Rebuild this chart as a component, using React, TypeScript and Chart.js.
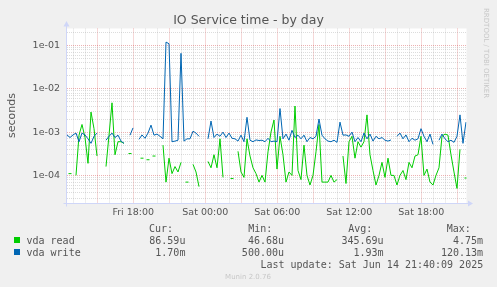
import React, { useEffect, useRef } from 'react';
import { Chart, registerables } from 'chart.js';

Chart.register(...registerables);

// ---------- data ----------
const TITLE = 'IO Service time - by day';
const Y_TITLE = 'seconds';

// sample times: hours after Fri 00:00, one sample every 15 minutes
const START_HOUR = 12.475;
const STEP_HOURS = 0.25;
const X_MIN = 12.433;
const X_MAX = 45.767;
const X_GRID_HOURS = [13, 14, 15, 16, 17, 18, 19, 20, 21, 22, 23, 24, 25, 26, 27, 28, 29, 30, 31, 32, 33, 34, 35, 36, 37, 38, 39, 40, 41, 42, 43, 44, 45];
const X_TICK_HOURS = [18, 24, 30, 36, 42];
const X_TICK_LABELS = ['Fri 18:00', 'Sat 00:00', 'Sat 06:00', 'Sat 12:00', 'Sat 18:00'];

const Y_MIN = 2.244e-5;
const Y_MAX = 0.2472;
const Y_TICK_VALUES = [1e-4, 1e-3, 1e-2, 1e-1];
const Y_TICK_LABELS = ['1e-04', '1e-03', '1e-02', '1e-01'];

// service times in milliseconds (null = no data)
const READ_MS: (number | null)[] = [
  null, 0.11, null, 0.1, 0.85, 1.5, 0.75, 0.19, 2.9, 1.2,
  0.28, null, null, 0.16, 0.85, 4.75, 0.3, 0.6, 0.6, 0.55,
  null, 0.32, null, null, null, 0.25, null, 0.23, null, 0.28,
  null, null, 0.5, 0.07, 0.25, 0.11, 0.16, 0.12, 0.2, null,
  0.07, null, 0.18, 0.12, 0.055, null, null, 0.21, 0.15, 0.3,
  0.15, 0.7, 0.09, null, null, 0.085, null, 0.36, 0.12, 0.09,
  0.7, 0.28, 0.15, 0.11, 0.07, 0.1, 0.07, 0.35, 1.0, 1.9,
  0.14, 0.8, 0.3, 0.07, 0.12, 0.1, 4.0, 0.13, 0.08, 0.5,
  0.1, 0.06, 0.1, 0.35, 1.5, 0.07, 0.07, 0.07, 0.1, 0.07,
  0.08, null, 0.28, 0.065, 0.6, 0.8, 0.25, 0.6, 0.45, 0.6,
  2.5, 0.3, 0.13, 0.06, 0.1, 0.2, 0.09, 0.25, 0.1, 0.1,
  0.06, 0.1, 0.13, 0.08, 0.2, 0.15, 0.28, 0.3, 0.8, 0.1,
  0.14, 0.07, 0.06, 0.1, 0.15, 0.8, 0.9, 0.85, 0.3, 0.12,
  0.05, 0.4, null, 0.087,
];

const WRITE_MS: (number | null)[] = [
  0.86, 0.75, 0.86, 0.95, 0.6, 0.95, 0.86, 0.7, 0.55, 0.8,
  0.95, null, null, 0.65, 0.8, 0.95, 0.75, 0.85, 0.62, 0.55,
  null, 0.85, 1.25, null, 0.68, 0.86, 0.72, 0.95, 1.45, 0.85,
  0.9, 0.8, 0.7, 120, 110, 0.6, 0.62, 0.65, 66, 0.62,
  0.7, 0.7, 1.05, 0.95, 0.8, null, null, 0.7, 1.8, 0.75,
  0.9, 0.8, 1.0, 0.75, 0.95, 0.72, 0.7, 0.62, 0.85, 0.6,
  2.2, 0.65, 0.6, 0.66, 0.64, 0.65, 0.6, 0.72, 0.6, 0.62,
  0.6, 3.5, 0.7, 0.9, 0.65, 1.1, 0.75, 0.85, 0.7, 0.85,
  0.6, 0.75, 0.7, 0.8, 2.0, 0.85, 0.7, 0.62, 0.6, 0.65,
  0.58, 1.7, 0.85, 0.86, 0.8, 1.0, 0.6, 0.75, 0.6, 0.95,
  0.7, 0.9, 0.62, 0.8, 0.7, 0.75, 0.65, 0.62, 0.66, null,
  0.8, 0.95, 0.7, 0.86, 0.6, 0.72, 0.65, 0.7, 1.2, 0.8,
  0.6, 0.9, 0.52, null, 0.65, 0.9, 0.7, 0.6, 0.65, 0.58,
  0.8, 2.5, 0.55, 1.7,
];

const SERIES_NAMES = ['vda read', 'vda write'];
const SERIES_COLORS = ['#00CC00', '#0066B3'];
const STAT_HEADERS = ['Cur:', 'Min:', 'Avg:', 'Max:'];
const CUR = ['86.59u', '1.70m'];
const MIN = ['46.68u', '500.00u'];
const AVG = ['345.69u', '1.93m'];
const MAX = ['4.75m', '120.13m'];
const LAST_UPDATE = 'Last update: Sat Jun 14 21:40:09 2025';
const VERSION = 'Munin 2.0.76';
const WATERMARK = 'RRDTOOL / TOBI OETIKER';

// ---------- styles ----------
const BACK = '#F0F0F0';
const CANVAS_BG = '#FFFFFF';
const FONT_COLOR = '#555555';
const AXIS_COLOR = '#CFD6F8';
const GRID_MINOR = 'rgba(140,140,140,0.3)';
const GRID_MAJOR = 'rgba(210,60,60,0.4)';
const SANS = '"DejaVu Sans"';
const MONO = '"DejaVu Sans Mono"';

const toPoints = (arr: (number | null)[]) =>
  arr.map((v, i) => ({ x: START_HOUR + i * STEP_HOURS, y: v == null ? null : v / 1000 }));

const isolatedRadius = (arr: (number | null)[]) => (ctx: any) => {
  const i = ctx.dataIndex;
  if (arr[i] == null) return 0;
  const prev = i > 0 ? arr[i - 1] : null;
  const next = i < arr.length - 1 ? arr[i + 1] : null;
  return prev == null && next == null ? 1.5 : 0;
};

const isDecade = (v: number) => Math.abs(Math.log10(v) - Math.round(Math.log10(v))) < 1e-6;

const muninPlugin = {
  id: 'muninDecor',
  beforeDraw(chart: any) {
    const { ctx, chartArea: a } = chart;
    ctx.save();
    ctx.fillStyle = BACK;
    ctx.fillRect(0, 0, chart.width, chart.height);
    ctx.fillStyle = CANVAS_BG;
    ctx.fillRect(a.left, a.top, a.right - a.left, a.bottom - a.top);
    ctx.restore();
  },
  beforeDatasetsDraw(chart: any) {
    const { ctx, chartArea: a } = chart;
    ctx.save();
    ctx.strokeStyle = AXIS_COLOR;
    ctx.fillStyle = AXIS_COLOR;
    ctx.lineWidth = 1;
    ctx.beginPath();
    ctx.moveTo(a.left, a.bottom + 3);
    ctx.lineTo(a.left, a.top - 3);
    ctx.moveTo(a.left - 3, a.bottom);
    ctx.lineTo(a.right + 3, a.bottom);
    ctx.stroke();
    // arrows
    ctx.beginPath();
    ctx.moveTo(a.left, a.top - 7.5);
    ctx.lineTo(a.left - 3, a.top - 2);
    ctx.lineTo(a.left + 3, a.top - 2);
    ctx.closePath();
    ctx.fill();
    ctx.beginPath();
    ctx.moveTo(a.right + 6.5, a.bottom);
    ctx.lineTo(a.right + 1.5, a.bottom - 3);
    ctx.lineTo(a.right + 1.5, a.bottom + 3);
    ctx.closePath();
    ctx.fill();
    ctx.restore();
  },
  afterDraw(chart: any) {
    const { ctx } = chart;
    ctx.save();
    ctx.fillStyle = FONT_COLOR;
    ctx.textBaseline = 'alphabetic';
    // title
    ctx.font = `12.5px ${SANS}`;
    ctx.textAlign = 'center';
    ctx.fillText(TITLE, 248.5, 23.5);
    // y title
    ctx.save();
    ctx.translate(15, 115.5);
    ctx.rotate(-Math.PI / 2);
    ctx.font = `11px ${SANS}`;
    ctx.textAlign = 'center';
    ctx.fillText(Y_TITLE, 0, 0);
    ctx.restore();
    // watermark
    ctx.save();
    ctx.fillStyle = 'rgba(90,90,90,0.28)';
    ctx.translate(483.5, 8);
    ctx.rotate(Math.PI / 2);
    ctx.font = `7px ${SANS}`;
    ctx.textAlign = 'left';
    ctx.fillText(WATERMARK, 0, 0);
    ctx.restore();
    // legend
    ctx.font = `10px ${MONO}`;
    const headerX = [149, 248.3, 348.3, 446.7];
    ctx.textAlign = 'left';
    STAT_HEADERS.forEach((h, i) => ctx.fillText(h, headerX[i], 231.5));
    const valueX = [185.4, 284, 383.6, 483.1];
    const stats = [CUR, MIN, AVG, MAX];
    SERIES_NAMES.forEach((name, r) => {
      const base = 243.5 + r * 12;
      ctx.fillStyle = SERIES_COLORS[r];
      ctx.fillRect(14, base - 6.5, 6, 6);
      ctx.fillStyle = FONT_COLOR;
      ctx.textAlign = 'left';
      ctx.fillText(name, 26.5, base);
      ctx.textAlign = 'right';
      stats.forEach((col, c) => ctx.fillText(col[r], valueX[c], base));
    });
    ctx.textAlign = 'right';
    ctx.fillText(LAST_UPDATE, 483.2, 267.5);
    ctx.font = `7px ${SANS}`;
    ctx.textAlign = 'center';
    ctx.fillStyle = 'rgba(90,90,90,0.28)';
    ctx.fillText(VERSION, 248, 279);
    ctx.restore();
  },
};

export default function App() {
  const ref = useRef<HTMLCanvasElement>(null);
  useEffect(() => {
    const canvas = ref.current;
    if (!canvas) return;
    const chart = new Chart(canvas, {
      type: 'line',
      data: {
        datasets: [
          {
            label: SERIES_NAMES[0],
            data: toPoints(READ_MS) as any,
            borderColor: SERIES_COLORS[0],
            backgroundColor: SERIES_COLORS[0],
            borderWidth: 1,
            pointStyle: 'line',
            pointRadius: isolatedRadius(READ_MS) as any,
            pointBorderColor: SERIES_COLORS[0],
            pointBorderWidth: 1,
            spanGaps: false,
            tension: 0,
            order: 2,
          },
          {
            label: SERIES_NAMES[1],
            data: toPoints(WRITE_MS) as any,
            borderColor: SERIES_COLORS[1],
            backgroundColor: SERIES_COLORS[1],
            borderWidth: 1,
            pointStyle: 'line',
            pointRadius: isolatedRadius(WRITE_MS) as any,
            pointBorderColor: SERIES_COLORS[1],
            pointBorderWidth: 1,
            spanGaps: false,
            tension: 0,
            order: 1,
          },
        ],
      },
      options: {
        responsive: false,
        animation: false,
        devicePixelRatio: 1,
        events: [],
        layout: { padding: { left: 0, top: 28.5, right: 30.5, bottom: 0 } },
        plugins: {
          legend: { display: false },
          tooltip: { enabled: false },
          title: { display: false },
        },
        scales: {
          x: {
            type: 'linear',
            bounds: 'data',
            min: X_MIN,
            max: X_MAX,
            afterBuildTicks: (s: any) => {
              s.ticks = X_GRID_HOURS.map((v) => ({ value: v }));
            },
            afterFit: (s: any) => {
              s.height = 83.5;
            },
            grid: {
              color: (c: any) => (c.tick && c.tick.value % 3 === 0 ? GRID_MAJOR : GRID_MINOR),
              lineWidth: 1,
              drawTicks: false,
              borderDash: [1, 1],
            } as any,
            border: { display: false, dash: [1, 1] },
            ticks: {
              autoSkip: false,
              maxRotation: 0,
              minRotation: 0,
              padding: 3,
              color: FONT_COLOR,
              font: { family: 'DejaVu Sans', size: 9.5 },
              callback: (v: any) => {
                const i = X_TICK_HOURS.indexOf(Number(v));
                return i >= 0 ? X_TICK_LABELS[i] : '';
              },
            },
          },
          y: {
            type: 'logarithmic',
            bounds: 'data',
            min: Y_MIN,
            max: Y_MAX,
            afterBuildTicks: (s: any) => {
              const vals: number[] = [];
              for (let e = -6; e <= 0; e++) {
                for (let m = 1; m <= 9; m++) {
                  const v = parseFloat(`${m}e${e}`);
                  if (v >= Y_MIN && v <= Y_MAX) vals.push(v);
                }
              }
              s.ticks = vals.map((v) => ({ value: v }));
            },
            afterFit: (s: any) => {
              s.width = 66.5;
            },
            grid: {
              color: (c: any) => (c.tick && isDecade(c.tick.value) ? GRID_MAJOR : GRID_MINOR),
              lineWidth: 1,
              drawTicks: false,
              borderDash: [1, 1],
            } as any,
            border: { display: false, dash: [1, 1] },
            ticks: {
              autoSkip: false,
              padding: 6.5,
              color: FONT_COLOR,
              font: { family: 'DejaVu Sans', size: 9.5 },
              callback: (v: any) => {
                const i = Y_TICK_VALUES.findIndex((t) => Math.abs(Math.log10(t) - Math.log10(Number(v))) < 1e-6);
                return i >= 0 ? Y_TICK_LABELS[i] : '';
              },
            },
          },
        },
      } as any,
      plugins: [muninPlugin],
    });
    return () => chart.destroy();
  }, []);
  return (
    <div style={{ position: 'fixed', left: 0, top: 0, width: 497, height: 287 }}>
      <canvas ref={ref} width={497} height={287} style={{ display: 'block', width: 497, height: 287 }} />
    </div>
  );
}
